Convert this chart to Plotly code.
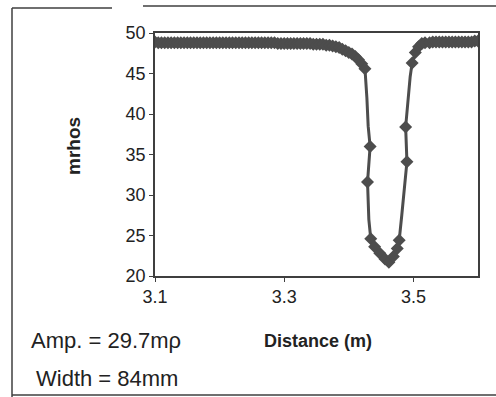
import plotly.graph_objects as go

# Distance (m)
distance = [
    3.100, 3.105, 3.110, 3.115, 3.120, 3.125, 3.130, 3.135, 3.140, 3.145,
    3.150, 3.155, 3.160, 3.165, 3.170, 3.175, 3.180, 3.185, 3.190, 3.195,
    3.200, 3.205, 3.210, 3.215, 3.220, 3.225, 3.230, 3.235, 3.240, 3.245,
    3.250, 3.255, 3.260, 3.265, 3.270, 3.275, 3.280, 3.285, 3.290, 3.295,
    3.300, 3.305, 3.310, 3.315, 3.320, 3.325, 3.330, 3.335, 3.340, 3.345,
    3.350, 3.355, 3.360, 3.365, 3.370, 3.375, 3.380, 3.385, 3.390, 3.395,
    3.400, 3.405, 3.410, 3.415, 3.420, 3.425,
    3.428, 3.430, 3.433, 3.429, 3.431, 3.434, 3.440, 3.448, 3.456, 3.462,
    3.469, 3.475, 3.478, 3.482, 3.486, 3.490, 3.488, 3.492, 3.495, 3.498,
    3.503, 3.508, 3.513, 3.518,
    3.525, 3.530, 3.535, 3.540, 3.545, 3.550, 3.555, 3.560, 3.565, 3.570,
    3.575, 3.580, 3.585, 3.590, 3.595, 3.600,
]

# Conductivity (mrhos)
mrhos = [
    48.9, 48.8, 48.8, 48.8, 48.8, 48.8, 48.8, 48.8, 48.8, 48.8,
    48.8, 48.8, 48.8, 48.8, 48.8, 48.8, 48.8, 48.8, 48.8, 48.8,
    48.8, 48.8, 48.8, 48.8, 48.8, 48.8, 48.8, 48.8, 48.8, 48.8,
    48.8, 48.8, 48.8, 48.8, 48.8, 48.8, 48.8, 48.8, 48.7, 48.7,
    48.7, 48.7, 48.7, 48.7, 48.7, 48.7, 48.7, 48.7, 48.7, 48.6,
    48.6, 48.6, 48.6, 48.5, 48.5, 48.4, 48.3, 48.2, 48.0, 47.8,
    47.6, 47.4, 47.1, 46.7, 46.2, 45.6,
    42.0, 38.5, 36.0, 31.6, 27.0, 24.6, 23.6, 22.8, 22.1, 21.7,
    22.4, 23.4, 24.4, 27.5, 31.0, 34.1, 38.4, 42.0, 44.6, 46.3,
    47.6, 48.3, 48.7, 48.8,
    48.8, 48.9, 48.9, 48.9, 48.9, 48.9, 48.9, 48.9, 48.9, 48.9,
    48.9, 48.9, 48.9, 48.9, 49.0, 49.0,
]

# points on the dip drawn by the curve only (no reading marker)
unmarked_distance = [3.428, 3.430, 3.431, 3.482, 3.486, 3.492, 3.495]

x_ticks = [3.1, 3.3, 3.5]
x_tick_text = ["3.1", "3.3", "3.5"]
y_ticks = [20, 25, 30, 35, 40, 45, 50]

FONT = "Liberation Sans, Arial, sans-serif"
INK = "#3f3f3f"
CURVE = "#4d4d4d"

# pixel -> paper helpers (plot area: x 155..478, y 33..276)
def px(x):
    return (x - 155) / 323.0

def py(y):
    return (276 - y) / 243.0

marker_sizes = [0 if d in unmarked_distance else 10 for d in distance]

fig = go.Figure()
fig.add_trace(go.Scatter(
    x=distance, y=mrhos, mode="lines+markers",
    line=dict(color=CURVE, width=3),
    marker=dict(symbol="diamond", size=marker_sizes, color=CURVE, opacity=1,
                line=dict(width=0)),
    showlegend=False,
))

axis_common = dict(
    showline=True, linecolor=INK, linewidth=1.5, mirror=True,
    ticks="outside", ticklen=4, tickcolor=INK, showgrid=False, zeroline=False,
    tickfont=dict(family=FONT, size=18, color="#222"),
)

fig.update_xaxes(range=[3.1, 3.6], tickvals=x_ticks, ticktext=x_tick_text, **axis_common)
fig.update_yaxes(range=[20, 50], tickvals=y_ticks, **axis_common)

shapes = [
    dict(type="line", xref="paper", yref="paper", x0=px(12), x1=px(12), y0=py(8), y1=py(397),
         line=dict(color=INK, width=1.5)),
    dict(type="line", xref="paper", yref="paper", x0=px(12), x1=px(112), y0=py(8), y1=py(8),
         line=dict(color=INK, width=1.5)),
    dict(type="line", xref="paper", yref="paper", x0=px(143), x1=px(496), y0=py(6), y1=py(6),
         line=dict(color=INK, width=1.5)),
    dict(type="line", xref="paper", yref="paper", x0=px(12), x1=px(496), y0=py(395), y1=py(395),
         line=dict(color=INK, width=1.5)),
]

annotations = [
    dict(text="<b>mrhos</b>", x=px(73), y=py(146), xref="paper", yref="paper",
         xanchor="center", yanchor="middle",
         textangle=-90, showarrow=False, font=dict(family=FONT, size=19, color="#222")),
    dict(text="<b>Distance (m)</b>", x=px(318), y=py(341), xref="paper", yref="paper",
         xanchor="center", yanchor="middle",
         showarrow=False, font=dict(family=FONT, size=18, color="#222")),
    dict(text="Amp. = 29.7mρ", x=px(29), y=py(340), xref="paper", yref="paper",
         xanchor="left", yanchor="middle", showarrow=False,
         font=dict(family=FONT, size=22, color="#222")),
    dict(text="Width = 84mm", x=px(34), y=py(378), xref="paper", yref="paper",
         xanchor="left", yanchor="middle", showarrow=False,
         font=dict(family=FONT, size=22, color="#222")),
]

fig.update_layout(
    width=496, height=397,
    margin=dict(l=155, r=18, t=33, b=121),
    paper_bgcolor="white", plot_bgcolor="white",
    shapes=shapes, annotations=annotations,
)

fig.write_html("out.html")
